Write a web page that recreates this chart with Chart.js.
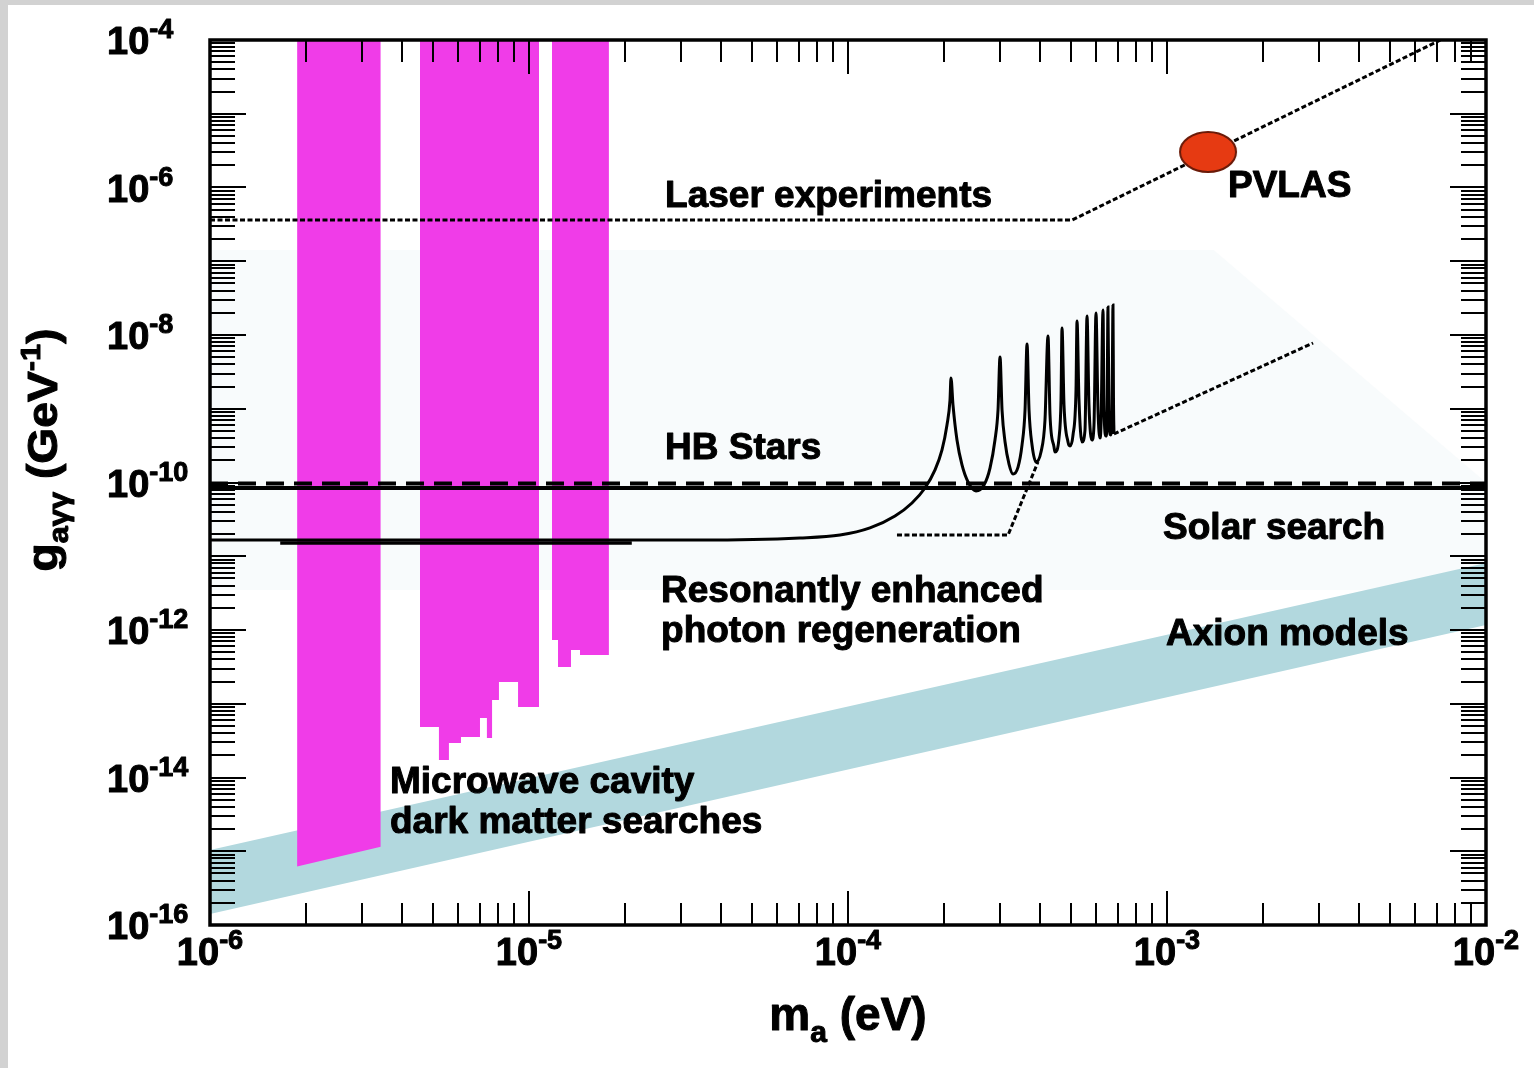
<!DOCTYPE html>
<html>
<head>
<meta charset="utf-8">
<title>Axion search limits</title>
<script src="https://cdn.jsdelivr.net/npm/chart.js@4.4.1/dist/chart.umd.min.js"></script>
<style>
  html, body { margin: 0; padding: 0; background: #d4d4d4; overflow: hidden; }
  canvas { display: block; }
</style>
</head>
<body>
<canvas id="chart" width="1534" height="1068"></canvas>
<script>
const FONT = "'Liberation Sans', Arial, Helvetica, sans-serif";

// decades that carry a "10^n" label
const xTickExps = [-6, -5, -4, -3, -2];
const yTickExps = [-4, -6, -8, -10, -12, -14, -16];

// microwave cavity exclusions: lower edge of each band, [m_a (eV), g (GeV^-1)]
const cavityBand1 = [[1.875e-6, 6.2e-16], [3.43e-6, 1.15e-15]];
const cavityBand2 = [
  [4.55e-6, 2.22e-14], [5.22e-6, 4.84e-14], [5.61e-6, 1.73e-14], [6.12e-6, 2.94e-14],
  [7.02e-6, 3.54e-14], [7.38e-6, 6.41e-14], [7.66e-6, 3.43e-14], [8.05e-6, 1.12e-13],
  [9.24e-6, 1.97e-13], [9.72e-6, 9.0e-14], [1.075e-5, 9.0e-14],
];
const cavityBand3 = [
  [1.18e-5, 1.54e-13], [1.233e-5, 7.31e-13], [1.354e-5, 3.15e-13],
  [1.445e-5, 5.36e-13], [1.634e-5, 4.58e-13], [1.78e-5, 4.58e-13],
];

// axion model band
const axionUpper = [[1e-6, 1.04e-15], [1e-2, 8.1e-12]];
const axionLower = [[1e-6, 1.41e-16], [1e-2, 1.17e-12]];

// faint shading behind the regeneration region
const shadeUpper = [[1e-6, 1.42e-7], [1.4e-3, 1.42e-7], [1e-2, 1e-10]];
const shadeLower = [[1e-6, 3.5e-12], [1e-2, 3.5e-12]];

// horizontal branch stars and solar search limits
const hbDashed = [[1e-6, 9.7e-11], [1e-2, 9.7e-11]];
const hbSolid = [[1e-6, 8.45e-11], [1e-2, 8.45e-11]];
const solarLimit = [[1.66e-6, 1.51e-11], [2.1e-5, 1.51e-11]];

// laser experiments and PVLAS signal
const laserLimit = [[1e-6, 3.62e-7], [5.04e-4, 3.62e-7], [7.2e-3, 1e-4]];
const pvlas = [[1.345e-3, 3.03e-6]];

// resonantly enhanced photon regeneration
const resonance = [
  [1.0e-6, 1.66e-11], [3.44e-5, 1.66e-11], [7.07e-5, 1.77e-11], [9.44e-5, 1.94e-11],
  [1.172e-4, 2.42e-11], [1.404e-4, 3.51e-11], [1.587e-4, 5.27e-11], [1.743e-4, 8.42e-11],
  [1.874e-4, 1.48e-10], [1.971e-4, 2.76e-10], [2.043e-4, 6.02e-10], [2.088e-4, 1.31e-9],
  [2.103e-4, 2.61e-9], [2.134e-4, 1.12e-9], [2.196e-4, 3.77e-10], [2.277e-4, 1.73e-10],
  [2.378e-4, 1.02e-10], [2.519e-4, 7.67e-11], [2.669e-4, 9.25e-11], [2.787e-4, 1.57e-10],
  [2.889e-4, 3.77e-10], [2.953e-4, 9.62e-10], [2.996e-4, 5.03e-9], [3.040e-4, 9.62e-10],
  [3.107e-4, 3.54e-10], [3.197e-4, 1.78e-10], [3.291e-4, 1.30e-10], [3.412e-4, 1.62e-10],
  [3.512e-4, 3.23e-10], [3.589e-4, 9.62e-10], [3.641e-4, 7.55e-9], [3.694e-4, 9.62e-10],
  [3.775e-4, 3.23e-10], [3.885e-4, 1.90e-10], [4.027e-4, 2.59e-10], [4.145e-4, 7.04e-10],
  [4.236e-4, 9.69e-9], [4.298e-4, 8.23e-10], [4.424e-4, 3.03e-10], [4.456e-4, 2.59e-10],
  [4.586e-4, 4.01e-10], [4.653e-4, 1.31e-9], [4.687e-4, 1.24e-8], [4.755e-4, 1.12e-9],
  [4.894e-4, 3.54e-10], [4.965e-4, 3.13e-10], [5.074e-4, 4.41e-10], [5.185e-4, 1.80e-9],
  [5.223e-4, 1.55e-8], [5.298e-4, 1.31e-9], [5.414e-4, 3.54e-10], [5.533e-4, 5.15e-10],
  [5.614e-4, 1.81e-8], [5.694e-4, 1.12e-9], [5.819e-4, 3.77e-10], [5.904e-4, 6.02e-10],
  [5.990e-4, 1.99e-8], [6.077e-4, 9.62e-10], [6.166e-4, 4.01e-10], [6.210e-4, 6.02e-10],
  [6.301e-4, 2.18e-8], [6.346e-4, 9.62e-10], [6.439e-4, 4.27e-10], [6.485e-4, 7.04e-10],
  [6.531e-4, 2.40e-8], [6.579e-4, 8.23e-10], [6.651e-4, 4.41e-10], [6.724e-4, 9.62e-10],
  [6.772e-4, 2.55e-8], [6.796e-4, 1.31e-9], [6.821e-4, 4.55e-10],
];
const regenExtension = [[6.82e-4, 4.55e-10], [2.87e-3, 7.79e-9]];
const regenStep = [[1.424e-4, 1.94e-11], [3.175e-4, 1.94e-11], [3.94e-4, 1.90e-10]];

// region labels, anchored at the left end of their baseline
const regionLabels = [
  { text: "Laser experiments", m: 2.67e-5, g: 5.44e-7 },
  { text: "PVLAS", m: 1.553e-3, g: 7.43e-7 },
  { text: "HB Stars", m: 2.67e-5, g: 2.08e-10 },
  { text: "Solar search", m: 9.72e-4, g: 1.714e-11 },
  { text: "Resonantly enhanced", m: 2.594e-5, g: 2.397e-12 },
  { text: "photon regeneration", m: 2.594e-5, g: 6.88e-13 },
  { text: "Axion models", m: 9.93e-4, g: 6.26e-13 },
  { text: "Microwave cavity", m: 3.667e-6, g: 6.16e-15 },
  { text: "dark matter searches", m: 3.667e-6, g: 1.768e-15 },
];

const toPts = (arr) => arr.map(([x, y]) => ({ x, y }));

const MAGENTA = "#f03ce8";
const AXION_BLUE = "#b2d8de";
const SHADE = "#f8fbfc";
const NONE = "rgba(0,0,0,0)";

// red ellipse used as the PVLAS marker
const pvlasMarker = document.createElement("canvas");
pvlasMarker.width = 62;
pvlasMarker.height = 46;
(() => {
  const c = pvlasMarker.getContext("2d");
  c.beginPath();
  c.ellipse(31, 23, 28, 20, 0, 0, Math.PI * 2);
  c.fillStyle = "#e63a12";
  c.fill();
  c.lineWidth = 2;
  c.strokeStyle = "#6a1a08";
  c.stroke();
})();

const lineSet = (data, width, dash, order, extra) => Object.assign({
  data: toPts(data),
  showLine: true,
  pointRadius: 0,
  borderColor: "#000000",
  borderWidth: width,
  borderDash: dash,
  fill: false,
  tension: 0,
  order: order,
}, extra || {});

const bandSet = (data, stepped, order) => ({
  data: toPts(data),
  showLine: true,
  pointRadius: 0,
  borderColor: NONE,
  borderWidth: 0,
  backgroundColor: MAGENTA,
  fill: "end",
  stepped: stepped,
  order: order,
});

// white sheet over a grey backdrop
const backdrop = {
  id: "backdrop",
  beforeDraw(chart) {
    const ctx = chart.ctx;
    ctx.save();
    ctx.fillStyle = "#d2d2d2";
    ctx.fillRect(0, 0, chart.width, chart.height);
    ctx.fillStyle = "#ffffff";
    ctx.fillRect(8, 5, chart.width - 8, chart.height - 5);
    ctx.restore();
  },
};

// heavy text: fill plus a thin outline
function heavyText(ctx, t, x, y) {
  ctx.fillText(t, x, y);
  ctx.strokeText(t, x, y);
}

// 10 with a superscript exponent
function drawPower(ctx, exp, x, baseline, align) {
  const sup = String(exp);
  ctx.font = "bold 38px " + FONT;
  const w1 = ctx.measureText("10").width;
  ctx.font = "bold 27px " + FONT;
  const w2 = ctx.measureText(sup).width;
  const x0 = align === "center" ? x - (w1 + w2) / 2 : x;
  ctx.textAlign = "left";
  ctx.textBaseline = "alphabetic";
  ctx.font = "bold 38px " + FONT;
  heavyText(ctx, "10", x0, baseline);
  ctx.font = "bold 27px " + FONT;
  heavyText(ctx, sup, x0 + w1, baseline - 16);
}

// run of text pieces: [text, size, vertical shift]
function drawRun(ctx, parts, x, baseline) {
  let cx = x;
  for (const [t, size, dy] of parts) {
    ctx.font = "bold " + size + "px " + FONT;
    heavyText(ctx, t, cx, baseline + dy);
    cx += ctx.measureText(t).width;
  }
}
function runWidth(ctx, parts) {
  let w = 0;
  for (const [t, size] of parts) {
    ctx.font = "bold " + size + "px " + FONT;
    w += ctx.measureText(t).width;
  }
  return w;
}

const regionText = {
  id: "regionText",
  afterDatasetsDraw(chart) {
    const { ctx, scales: { x, y } } = chart;
    ctx.save();
    ctx.fillStyle = "#000";
    ctx.strokeStyle = "#000";
    ctx.lineWidth = 1;
    ctx.lineJoin = "round";
    ctx.font = "bold 37px " + FONT;
    ctx.textAlign = "left";
    ctx.textBaseline = "alphabetic";
    for (const l of regionLabels) {
      heavyText(ctx, l.text, x.getPixelForValue(l.m), y.getPixelForValue(l.g));
    }
    ctx.restore();
  },
};

// inward ticks on all four sides, frame, tick labels and axis titles
const frame = {
  id: "frame",
  afterDraw(chart) {
    const { ctx, chartArea: a, scales: { x, y } } = chart;
    ctx.save();
    ctx.strokeStyle = "#000";
    ctx.lineWidth = 2;
    ctx.beginPath();
    for (let e = -6; e <= -2; e++) {
      for (let k = 1; k <= 9; k++) {
        const v = k * Math.pow(10, e);
        if (v > 1.00001e-2) break;
        const px = Math.round(x.getPixelForValue(v));
        const len = k === 1 ? 34 : 22;
        ctx.moveTo(px, a.bottom);
        ctx.lineTo(px, a.bottom - len);
        ctx.moveTo(px, a.top);
        ctx.lineTo(px, a.top + len);
      }
    }
    for (let e = -16; e <= -4; e++) {
      for (let k = 1; k <= 9; k++) {
        const v = k * Math.pow(10, e);
        if (v > 1.00001e-4) break;
        const py = Math.round(y.getPixelForValue(v));
        const len = k === 1 ? 36 : 25;
        ctx.moveTo(a.left, py);
        ctx.lineTo(a.left + len, py);
        ctx.moveTo(a.right, py);
        ctx.lineTo(a.right - len, py);
      }
    }
    ctx.stroke();
    ctx.lineWidth = 3.5;
    ctx.strokeRect(a.left, a.top, a.right - a.left, a.bottom - a.top);

    ctx.fillStyle = "#000";
    ctx.lineWidth = 1;
    ctx.lineJoin = "round";
    for (const e of xTickExps) {
      drawPower(ctx, e, x.getPixelForValue(Math.pow(10, e)), a.bottom + 40, "center");
    }
    for (const e of yTickExps) {
      drawPower(ctx, e, 107, y.getPixelForValue(Math.pow(10, e)) + 14, "left");
    }

    // x title
    const xParts = [["m", 46, 0], ["a", 30, 12], [" (eV)", 46, 0]];
    ctx.textAlign = "left";
    ctx.textBaseline = "alphabetic";
    const xw = runWidth(ctx, xParts);
    drawRun(ctx, xParts, (a.left + a.right) / 2 - xw / 2, 1030);

    // y title, rotated
    const yParts = [["g", 42, 0], ["a\u03b3\u03b3", 28, 11], [" (GeV", 42, 0], ["-1", 28, -17], [")", 42, 0]];
    const yw = runWidth(ctx, yParts);
    ctx.translate(57, 450);
    ctx.rotate(-Math.PI / 2);
    ctx.scale(1.1, 1);
    drawRun(ctx, yParts, -yw / 2, 0);
    ctx.restore();
  },
};

new Chart(document.getElementById("chart"), {
  type: "scatter",
  data: {
    datasets: [
      lineSet(shadeUpper, 0, [], 30, { borderColor: NONE, backgroundColor: SHADE, fill: "+1" }),
      lineSet(shadeLower, 0, [], 30, { borderColor: NONE }),
      lineSet(axionUpper, 0, [], 20, { borderColor: NONE, backgroundColor: AXION_BLUE, fill: "+1" }),
      lineSet(axionLower, 0, [], 20, { borderColor: NONE }),
      bandSet(cavityBand1, false, 15),
      bandSet(cavityBand2, "after", 15),
      bandSet(cavityBand3, "after", 15),
      lineSet(hbSolid, 4, [], 8),
      lineSet(hbDashed, 4, [18, 10], 7),
      lineSet(solarLimit, 3.5, [], 8),
      lineSet(laserLimit, 3, [5, 2.5], 6),
      lineSet(regenStep, 3, [5, 2.5], 6),
      lineSet(regenExtension, 3, [5, 2.5], 6),
      lineSet(resonance, 3, [], 5, { cubicInterpolationMode: "monotone" }),
      {
        data: toPts(pvlas),
        showLine: false,
        pointStyle: pvlasMarker,
        pointRadius: 20,
        order: 1,
      },
    ],
  },
  options: {
    responsive: false,
    devicePixelRatio: 1,
    animation: false,
    events: [],
    layout: { padding: { left: 210, top: 40, right: 48, bottom: 143 } },
    plugins: {
      legend: { display: false },
      tooltip: { enabled: false },
    },
    scales: {
      x: { type: "logarithmic", min: 1e-6, max: 1e-2, display: false },
      y: { type: "logarithmic", min: 1e-16, max: 1e-4, display: false },
    },
  },
  plugins: [backdrop, regionText, frame],
});
</script>
</body>
</html>
